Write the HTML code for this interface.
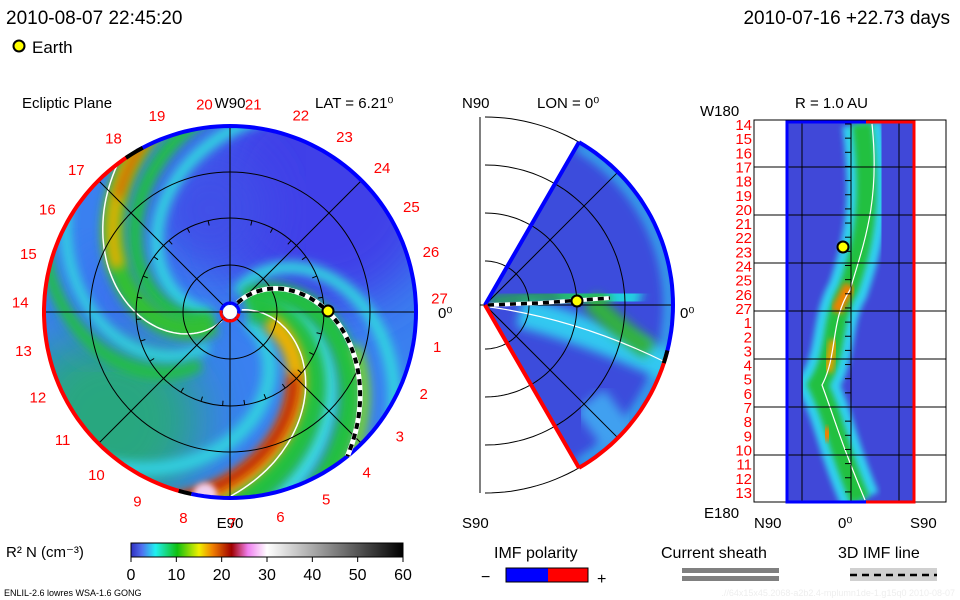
<!DOCTYPE html>
<html><head><meta charset="utf-8"><style>
body{margin:0;background:#fff;width:960px;height:600px;overflow:hidden;font-family:"Liberation Sans",sans-serif}
svg{position:absolute;left:0;top:0}
</style></head><body>
<svg width="960" height="600" viewBox="0 0 960 600" id="c">
<defs>
<filter id="bl" x="-30%" y="-30%" width="160%" height="160%"><feGaussianBlur stdDeviation="5"/></filter>
<filter id="bl3" x="-30%" y="-30%" width="160%" height="160%"><feGaussianBlur stdDeviation="25"/></filter>
<filter id="bl2" x="-30%" y="-30%" width="160%" height="160%"><feGaussianBlur stdDeviation="3"/></filter>
<clipPath id="disk"><circle cx="230" cy="312" r="186"/></clipPath>
<clipPath id="wedge"><path id="wp" d=""/></clipPath>
<clipPath id="rect"><rect x="786" y="122" width="128" height="380"/></clipPath>
<linearGradient id="cb" x1="0" x2="1">
<stop offset="0" stop-color="#3030c0"/><stop offset="0.04" stop-color="#5070f0"/><stop offset="0.09" stop-color="#20f0f0"/>
<stop offset="0.17" stop-color="#10c010"/><stop offset="0.25" stop-color="#f0f000"/><stop offset="0.3" stop-color="#f08000"/>
<stop offset="0.37" stop-color="#a00000"/><stop offset="0.43" stop-color="#f080f0"/><stop offset="0.5" stop-color="#ffffff"/>
<stop offset="1" stop-color="#000000"/></linearGradient>
</defs>
<g font-size="19" fill="#000">
<text x="6" y="24">2010-08-07 22:45:20</text>
<text x="950" y="24" text-anchor="end">2010-07-16 +22.73 days</text>
</g>
<circle cx="19" cy="46" r="5.5" fill="#ff0" stroke="#000" stroke-width="2"/>
<text x="32" y="53" font-size="17">Earth</text>
<g font-size="15">
<text x="22" y="108">Ecliptic Plane</text>
<text x="230" y="108" text-anchor="middle">W90</text>
<text x="315" y="108">LAT = 6.21⁰</text>
<text x="230" y="528" text-anchor="middle">E90</text>
<text x="438" y="318">0⁰</text>
<text x="462" y="108">N90</text>
<text x="537" y="108">LON = 0⁰</text>
<text x="462" y="528">S90</text>
<text x="680" y="318">0⁰</text>
<text x="700" y="116">W180</text>
<text x="795" y="108">R = 1.0 AU</text>
<text x="704" y="518">E180</text>
<text x="754" y="528">N90</text>
<text x="838" y="528">0⁰</text>
<text x="910" y="528">S90</text>
</g>
<g id="left" clip-path="url(#disk)"><circle cx="230" cy="312" r="186" fill="#3a80f0"/></g>
<g id="mid" clip-path="url(#wedge)"><rect x="480" y="140" width="200" height="340" fill="#3c4cdc"/></g>
<g id="right" clip-path="url(#rect)"><rect x="786" y="122" width="128" height="380" fill="#4048d8"/></g>
<g id="over"></g>
<text x="6" y="557" font-size="15">R² N (cm⁻³)</text>
<rect x="131" y="543" width="272" height="14" fill="url(#cb)" stroke="#000"/>
<g id="cbt" font-size="16" text-anchor="middle"></g>
<text x="4" y="596" font-size="9">ENLIL-2.6 lowres WSA-1.6 GONG</text>
<text x="955" y="596" font-size="9" fill="#eee" text-anchor="end">.//64x15x45.2068-a2b2.4-mplumn1de-1.g15q0   2010-08-07</text>
<text x="494" y="558" font-size="16">IMF polarity</text>
<text x="481" y="582" font-size="16">−</text>
<rect x="506" y="568" width="42" height="14" fill="#00f"/>
<rect x="548" y="568" width="40" height="14" fill="#f00"/>
<rect x="506" y="568" width="82" height="14" fill="none" stroke="#000"/>
<text x="597" y="584" font-size="16">+</text>
<text x="661" y="558" font-size="16">Current sheath</text>
<rect x="682" y="568" width="97" height="5" fill="#808080"/>
<rect x="682" y="576" width="97" height="5" fill="#808080"/>
<text x="838" y="558" font-size="16">3D IMF line</text>
<rect x="850" y="568" width="87" height="13" fill="#d0d0d0"/>
<line x1="850" y1="575" x2="937" y2="575" stroke="#000" stroke-width="2.5" stroke-dasharray="7,5"/>
</svg>
<script>
const cbTicks=[0,10,20,30,40,50,60];
const dayLabels=[27,1,2,3,4,5,6,7,8,9,10,11,12,13,14,15,16,17,18,19,20,21,22,23,24,25,26];
const rightDays=[14,15,16,17,18,19,20,21,22,23,24,25,26,27,1,2,3,4,5,6,7,8,9,10,11,12,13];
const NS='http://www.w3.org/2000/svg';
function mk(p,t,a){const e=document.createElementNS(NS,t);for(const k in a)e.setAttribute(k,a[k]);p.appendChild(e);return e;}
const cbt=document.getElementById('cbt');
cbTicks.forEach(v=>{const x=131+v/60*272;
 const l=mk(cbt,'line',{x1:x,y1:557,x2:x,y2:562,stroke:'#000'});
 
 
 const t=mk(cbt,'text',{x:x,y:580});t.textContent=v;
 
 });
const cx=230,cy=312,R0=186;
const rad=d=>d*Math.PI/180;
function spiral(phi0,rate,r0,r1){let d='';for(let r=r0;r<=r1;r+=3){const a=rad(phi0+rate*r);d+=(d?'L':'M')+(cx+r*Math.cos(a)).toFixed(1)+','+(cy+r*Math.sin(a)).toFixed(1);}return d;}
function arc(x0,y0,r,a0,a1){let d='';for(let a=a0;a<=a1+0.01;a+=2){d+=(d?'L':'M')+(x0+r*Math.cos(rad(a))).toFixed(1)+','+(y0+r*Math.sin(rad(a))).toFixed(1);}return d;}
const L=document.getElementById('left');
mk(L,'circle',{cx:110,cy:420,r:90,fill:'#20b850',filter:'url(#bl3)',opacity:0.7});
mk(L,'circle',{cx:320,cy:190,r:120,fill:'#4040e8',filter:'url(#bl3)'});
mk(L,'circle',{cx:210,cy:210,r:60,fill:'#4050e8',filter:'url(#bl3)'});
mk(L,'circle',{cx:120,cy:300,r:45,fill:'#3a70f0',filter:'url(#bl3)'});
[['#30d8e0',-80,0.58,20,260,12],
 ['#40d8e8',-35,0.58,20,260,18],['#20c040',-50,0.58,20,260,22],['#80d820',-60,0.58,130,260,10],
 ['#30d0e0',15,0.58,20,260,14],['#20c040',-22,0.58,20,260,28],['#f0b000',-10,0.58,40,260,18],['#c01000',-7,0.58,90,260,10],
 ['#30d8e0',165,0.58,20,260,12],['#20c040',148,0.58,20,260,14],['#30d8e0',100,0.58,40,260,10],['#20c040',85,0.58,60,260,12],
 ['#30c030',132,0.58,20,260,22],['#e0b000',132,0.58,120,260,14],['#d05000',133,0.58,160,260,6]].forEach(b=>{
 const p=mk(L,'path',{d:spiral(b[1],b[2],b[3],b[4]),stroke:b[0],'stroke-width':b[5],fill:'none',filter:'url(#bl)'});
 
 });
mk(L,'circle',{cx:205,cy:495,r:12,fill:'#f0d0f0',filter:'url(#bl2)'});
[[-17],[125]].forEach(s=>{const p=mk(L,'path',{d:spiral(s[0],0.58,12,200),stroke:'#fff','stroke-width':1.5,fill:'none'});
 
 });
const O=document.getElementById('over');
[47,94,140].forEach(r=>{const c=mk(O,'circle',{cx,cy,r,fill:'none',stroke:'#000','stroke-width':1});
 
 });
for(let a=0;a<360;a+=13.5){mk(O,'line',{x1:cx+94*Math.cos(rad(a)),y1:cy+94*Math.sin(rad(a)),x2:cx+89*Math.cos(rad(a)),y2:cy+89*Math.sin(rad(a)),stroke:'#000'});}
for(let k=0;k<8;k++){const a=k*Math.PI/4;const l=mk(O,'line',{x1:cx,y1:cy,x2:cx+R0*Math.cos(a),y2:cy+R0*Math.sin(a),stroke:'#000'});
 
 }
let e=mk(O,'path',{d:arc(cx,cy,R0,-120,103),stroke:'#00f','stroke-width':4,fill:'none'});

e=mk(O,'path',{d:arc(cx,cy,R0,105,238),stroke:'#f00','stroke-width':4,fill:'none'});

mk(O,'path',{d:arc(cx,cy,R0,236,242),stroke:'#000','stroke-width':4,fill:'none'});
mk(O,'path',{d:arc(cx,cy,R0,102,107),stroke:'#000','stroke-width':4,fill:'none'});
mk(O,'path',{d:spiral(-57,0.58,12,186),stroke:'#fff','stroke-width':5,fill:'none'});
const imf=mk(O,'path',{d:spiral(-57,0.58,12,186),stroke:'#000','stroke-width':4,fill:'none','stroke-dasharray':'6,5'});


mk(O,'path',{d:arc(cx,cy,9,-170,10),stroke:'#00f','stroke-width':3,fill:'none'});
mk(O,'path',{d:arc(cx,cy,9,10,190),stroke:'#f00','stroke-width':3,fill:'none'});
const sun=mk(O,'circle',{cx,cy,r:7,fill:'#fff'});


const e1=mk(O,'circle',{cx:328,cy:311,r:5.5,fill:'#ff0',stroke:'#000','stroke-width':2});


dayLabels.forEach((d,i)=>{const a=rad(-4+i*13.35);
 const t=mk(O,'text',{x:cx+210*Math.cos(a),y:cy+210*Math.sin(a)+6,fill:'#f00','font-size':15,'text-anchor':'middle'});t.textContent=d;
 
 });
const mx=485,my=305,MR=188;
const wd='M'+mx+','+my+' '+arc(mx,my,MR,-60,60).replace('M','L')+'Z';
document.getElementById('wp').setAttribute('d',wd);
const M=document.getElementById('mid');
[['#30c0f0',arc(mx,my,MR-4,-60,60),8],['#30c8f0','M520,312 Q590,330 672,368',30],['#20d0e0','M560,300 Q600,290 640,300',34],
 ['#20b040','M490,302 Q560,292 610,298',10],['#30b040','M590,300 Q620,330 650,350',20],['#40a0f0','M590,400 L620,440',36],['#f0c000','M492,304 L515,304',5]].forEach(b=>{
 const p=mk(M,'path',{d:b[1],stroke:b[0],'stroke-width':b[2],fill:'none',filter:'url(#bl)'});
 
 });
mk(M,'path',{d:'M490,307 Q580,320 665,362',stroke:'#fff','stroke-width':1.2,fill:'none'});
[44,92,140,188].forEach(r=>{const p=mk(O,'path',{d:arc(mx,my,r,-90,90),stroke:'#000',fill:'none'});
 });
[-45,45].forEach(a=>mk(O,'line',{x1:mx,y1:my,x2:mx+MR*Math.cos(rad(a)),y2:my+MR*Math.sin(rad(a)),stroke:'#000'}));
mk(O,'line',{x1:480,y1:117,x2:480,y2:493,stroke:'#000'});
mk(O,'line',{x1:480,y1:305,x2:673,y2:305,stroke:'#000'});
const tp=[mx+MR*Math.cos(rad(-60)),my+MR*Math.sin(rad(-60))],bp=[mx+MR*Math.cos(rad(60)),my+MR*Math.sin(rad(60))];
mk(O,'line',{x1:mx,y1:my,x2:tp[0],y2:tp[1],stroke:'#00f','stroke-width':4});
mk(O,'line',{x1:mx,y1:my,x2:bp[0],y2:bp[1],stroke:'#f00','stroke-width':4});
mk(O,'path',{d:arc(mx,my,MR,-60,16),stroke:'#00f','stroke-width':4,fill:'none'});
mk(O,'path',{d:arc(mx,my,MR,16,60),stroke:'#f00','stroke-width':4,fill:'none'});
mk(O,'path',{d:arc(mx,my,MR,14,18),stroke:'#000','stroke-width':4,fill:'none'});
mk(O,'path',{d:'M488,305 L540,303 L610,298',stroke:'#fff','stroke-width':4,fill:'none'});
mk(O,'path',{d:'M488,305 L540,303 L610,298',stroke:'#000','stroke-width':3.5,fill:'none','stroke-dasharray':'6,5'});
mk(O,'circle',{cx:577,cy:301,r:5.5,fill:'#ff0',stroke:'#000','stroke-width':2});
const R=document.getElementById('right');
const yOf=i=>124+i*14.15;
const path='M862,124 C872,200 865,240 848,290 C830,320 838,355 818,385 C835,420 835,440 860,500';
[['#30d0f0',path,40],['#20c040',path,20],
 ['#f08000','M850,285 L836,312',12],['#e0a000','M834,340 L828,372',10],['#e04000','M790,384 L815,384',12],['#f08000','M828,428 L826,440',14],['#40c040','M880,124 L880,170',14]].forEach(b=>{
 const p=mk(R,'path',{d:b[1],stroke:b[0],'stroke-width':b[2],fill:'none',filter:'url(#bl2)'});
 
 });
mk(R,'path',{d:'M872,124 C880,200 865,240 850,290 C830,320 838,355 822,385 C835,420 840,440 865,500',stroke:'#fff','stroke-width':1.2,fill:'none'});
mk(O,'rect',{x:754,y:120,width:192,height:382,fill:'none',stroke:'#000'});
[167,215,263,311,359,407,455].forEach(y=>mk(O,'line',{x1:754,y1:y,x2:946,y2:y,stroke:'#000'}));
[802,851,899].forEach(x=>mk(O,'line',{x1:x,y1:120,x2:x,y2:502,stroke:'#000'}));
rightDays.forEach((d,i)=>{const y=yOf(i);
 mk(O,'line',{x1:845,y1:y,x2:851,y2:y,stroke:'#000'});
 const t=mk(O,'text',{x:752,y:y+6,fill:'#f00','font-size':15,'text-anchor':'end'});t.textContent=d;
 
 });
mk(O,'path',{d:'M866,122 L787,122 L787,502 L866,502',stroke:'#00f','stroke-width':3,fill:'none'});
mk(O,'path',{d:'M866,122 L914,122 L914,502 L866,502',stroke:'#f00','stroke-width':3,fill:'none'});
mk(O,'circle',{cx:843,cy:247,r:5.5,fill:'#ff0',stroke:'#000','stroke-width':2});
</script>
</body></html>
